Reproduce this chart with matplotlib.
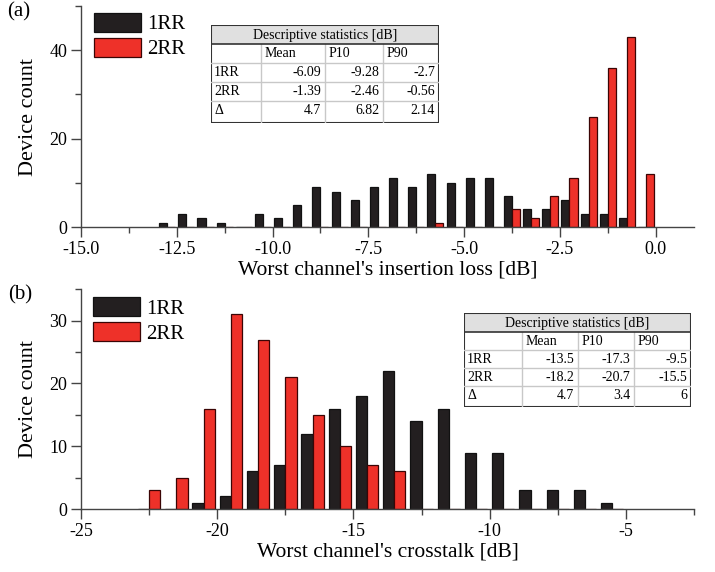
import numpy as np
import matplotlib.pyplot as plt
from matplotlib.patches import Rectangle
from matplotlib.ticker import MultipleLocator, FormatStrFormatter

plt.rcParams['font.family'] = ['Liberation Serif', 'DejaVu Serif']
plt.rcParams['axes.unicode_minus'] = False

# (a) insertion loss histogram, 0.5 dB bins
il_centers = [-12.75, -12.25, -11.75, -11.25, -10.75, -10.25, -9.75, -9.25, -8.75,
              -8.25, -7.75, -7.25, -6.75, -6.25, -5.75, -5.25, -4.75, -4.25, -3.75,
              -3.25, -2.75, -2.25, -1.75, -1.25, -0.75, -0.25]
il_1rr = [1, 3, 2, 1, 0, 3, 2, 5, 9, 8, 6, 9, 11, 9, 12, 10, 11, 11, 7, 4, 4, 6, 3, 3, 2, 0]
il_2rr = [0, 0, 0, 0, 0, 0, 0, 0, 0, 0, 0, 0, 0, 0, 1, 0, 0, 0, 4, 2, 7, 11, 25, 36, 43, 12]

# (b) crosstalk histogram, 1 dB bins
xt_centers = [-22.5, -21.5, -20.5, -19.5, -18.5, -17.5, -16.5, -15.5, -14.5,
              -13.5, -12.5, -11.5, -10.5, -9.5, -8.5, -7.5, -6.5, -5.5]
xt_1rr = [0, 0, 1, 2, 6, 7, 12, 16, 18, 22, 14, 16, 9, 9, 3, 3, 3, 1]
xt_2rr = [3, 5, 16, 31, 27, 21, 15, 10, 7, 6, 0, 0, 0, 0, 0, 0, 0, 0]

series = ['1RR', '2RR']
stat_cols = ['Mean', 'P10', 'P90']
stat_rows = ['1RR', '2RR', '\u0394']
il_stats = [['-6.09', '-9.28', '-2.7'], ['-1.39', '-2.46', '-0.56'], ['4.7', '6.82', '2.14']]
xt_stats = [['-13.5', '-17.3', '-9.5'], ['-18.2', '-20.7', '-15.5'], ['4.7', '3.4', '6']]

black = '#231f20'
red = '#ee3129'
W, H = 715, 572

fig = plt.figure(figsize=(W / 100, H / 100), dpi=100)
ax1 = fig.add_axes([81 / W, 1 - 227 / H, 613 / W, 221 / H])
ax2 = fig.add_axes([81 / W, 1 - 509 / H, 613 / W, 219.7 / H])


def draw_hist(ax, centers, a, b, w):
    c = np.array(centers)
    ba = ax.bar(c - w, a, width=w, align='edge', color=black, edgecolor='#111111', linewidth=0.9)
    bb = ax.bar(c, b, width=w, align='edge', color=red, edgecolor='#3a0505', linewidth=0.9)
    return ba, bb


def style(ax, xmaj, xmin, ymaj, ymin):
    for s in ['top', 'right']:
        ax.spines[s].set_visible(False)
    for s in ['left', 'bottom']:
        ax.spines[s].set_color('#444444')
        ax.spines[s].set_linewidth(1.0)
    ax.xaxis.set_major_locator(MultipleLocator(xmaj))
    ax.xaxis.set_minor_locator(MultipleLocator(xmin))
    ax.yaxis.set_major_locator(MultipleLocator(ymaj))
    ax.yaxis.set_minor_locator(MultipleLocator(ymin))
    ax.tick_params(which='major', length=7, width=1, color='#444444', labelsize=13, pad=3)
    ax.tick_params(which='minor', length=4, width=1, color='#444444')
    ax.set_ylabel('Device count', fontsize=16, labelpad=8)


def draw_table(left, top, colw, rowh, title, data):
    tw, th = sum(colw), sum(rowh)
    tax = fig.add_axes([left / W, 1 - (top + th) / H, tw / W, th / H])
    tax.set_xlim(0, tw)
    tax.set_ylim(th, 0)
    tax.axis('off')
    tax.add_patch(Rectangle((0, 0), tw, rowh[0], facecolor='#e0e0e0', edgecolor='none'))
    tax.text(tw / 2, rowh[0] / 2 + 0.5, title, ha='center', va='center', fontsize=10)
    xs = np.cumsum([0] + colw)
    ys = np.cumsum([0] + rowh)
    for y in ys[2:-1]:
        tax.plot([0, tw], [y, y], color='#c8c8c8', lw=1)
    for x in xs[1:-1]:
        tax.plot([x, x], [ys[1], th], color='#c8c8c8', lw=1)
    tax.plot([0, tw], [ys[1], ys[1]], color='#333333', lw=1.2)
    tax.add_patch(Rectangle((0, 0), tw, th, facecolor='none', edgecolor='#333333', lw=1.5))
    for j, cname in enumerate(stat_cols):
        tax.text(xs[j + 1] + 4, ys[1] + 9.5, cname, ha='left', va='center', fontsize=10)
    for i, rname in enumerate(stat_rows):
        yc = ys[i + 2] + 9.5
        tax.text(3, yc, rname, ha='left', va='center', fontsize=10)
        for j, val in enumerate(data[i]):
            tax.text(xs[j + 2] - 4, yc, val, ha='right', va='center', fontsize=10)


# (a)
h1 = draw_hist(ax1, il_centers, il_1rr, il_2rr, 0.21)
ax1.set_xlim(-15, 1)
ax1.set_ylim(0, 50)
style(ax1, 2.5, 1.25, 20, 10)
ax1.xaxis.set_major_formatter(FormatStrFormatter('%.1f'))
ax1.set_xlabel("Worst channel's insertion loss [dB]", fontsize=15.5, labelpad=2)
ax1.legend(h1, series, loc='upper left', bbox_to_anchor=(0.022, 0.97), frameon=False,
           fontsize=15, handlelength=2.25, handleheight=1.05, labelspacing=0.15,
           handletextpad=0.3, borderpad=0, borderaxespad=0)

# (b)
h2 = draw_hist(ax2, xt_centers, xt_1rr, xt_2rr, 0.41)
ax2.set_xlim(-25, -2.5)
ax2.set_ylim(0, 35)
style(ax2, 5, 2.5, 10, 5)
ax2.set_xlabel("Worst channel's crosstalk [dB]", fontsize=15.5, labelpad=2)
ax2.legend(h2, series, loc='upper left', bbox_to_anchor=(0.02, 0.965), frameon=False,
           fontsize=15, handlelength=2.25, handleheight=1.05, labelspacing=0.15,
           handletextpad=0.3, borderpad=0, borderaxespad=0)

fig.text(7 / W, 1 - 12 / H, '(a)', fontsize=15, va='center', ha='left')
fig.text(8 / W, 1 - 295 / H, '(b)', fontsize=15, va='center', ha='left')

draw_table(211, 25, [50, 64, 58, 56], [19, 19, 19, 19, 22], 'Descriptive statistics [dB]', il_stats)
draw_table(464, 313, [58, 56, 56, 57], [19, 18, 18, 18, 21], 'Descriptive statistics [dB]', xt_stats)

fig.savefig('out.png', dpi=100)
